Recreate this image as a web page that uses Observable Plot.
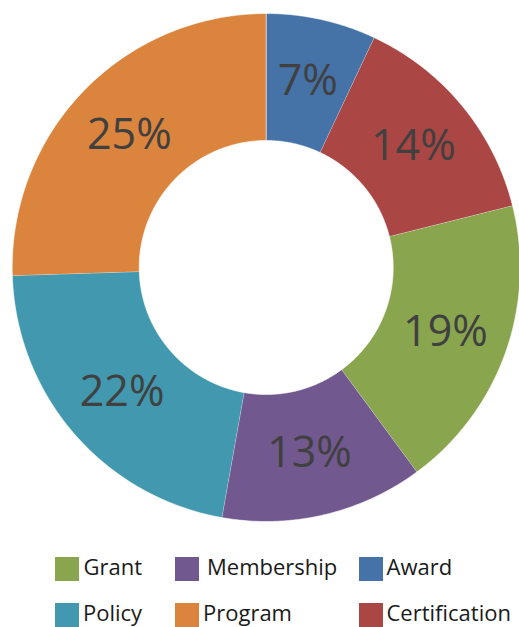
<!DOCTYPE html>
<html>
<head>
<meta charset="utf-8">
<script src="https://cdn.jsdelivr.net/npm/d3@7"></script>
<script src="https://cdn.jsdelivr.net/npm/@observablehq/plot@0.6"></script>
<style>
  html, body { margin: 0; padding: 0; background: #fff; }
  #wrap { width: 519px; height: 627px; position: relative; overflow: hidden; font-family: "Open Sans", sans-serif; }
  #legend { position: absolute; left: 0; top: 540px; width: 519px; height: 87px; }
  .sw { position: absolute; width: 24px; height: 24px; }
  .lt { position: absolute; font-size: 22px; line-height: 24px; height: 24px; color: #1a1a1a; white-space: nowrap; }
</style>
</head>
<body>
<div id="wrap"><div id="chart"></div><div id="legend"></div></div>
<script>
const categories = ["Award", "Certification", "Grant", "Membership", "Policy", "Program"];
const values = [7.0, 14.1, 18.8, 12.9, 21.7, 25.5];
const labelTexts = ["7%", "14%", "19%", "13%", "22%", "25%"];
const colors = ["#4572A7", "#AA4643", "#89A54E", "#71588F", "#4198AF", "#DB843D"];
const legendOrder = ["Grant", "Membership", "Award", "Policy", "Program", "Certification"];

const W = 519, H = 540, CX = 265.7, CY = 267, R = 254, RI = 127;

const pie = d3.pie().sort(null).value(d => d.value).startAngle(0).endAngle(2 * Math.PI);
const data = categories.map((c, i) => ({category: c, value: values[i], label: labelTexts[i]}));
const arcs = pie(data);

const pts = [];
arcs.forEach(a => {
  const n = 80;
  for (let k = 0; k <= n; k++) {
    const t = a.startAngle + (a.endAngle - a.startAngle) * k / n;
    pts.push({category: a.data.category, x: R * Math.sin(t), y: R * Math.cos(t)});
  }
  for (let k = n; k >= 0; k--) {
    const t = a.startAngle + (a.endAngle - a.startAngle) * k / n;
    pts.push({category: a.data.category, x: RI * Math.sin(t), y: RI * Math.cos(t)});
  }
});
const labels = arcs.map(a => {
  const m = (a.startAngle + a.endAngle) / 2, r = (R + RI) / 2;
  return {category: a.data.category, label: a.data.label, x: r * Math.sin(m), y: r * Math.cos(m)};
});

const chart = Plot.plot({
  width: W, height: H,
  margin: 0,
  x: {domain: [-CX, W - CX], range: [0, W], axis: null},
  y: {domain: [-(H - CY), CY], range: [H, 0], axis: null},
  color: {domain: categories, range: colors},
  style: {fontFamily: "'Open Sans', sans-serif", background: "white"},
  marks: [
    Plot.line(pts, {x: "x", y: "y", z: "category", fill: "category", stroke: "white", strokeWidth: 0.6, curve: "linear"}),
    Plot.text(labels, {x: "x", y: "y", text: "label", fontSize: 43, fill: "#404040"})
  ]
});
document.getElementById("chart").appendChild(chart);

const swPos = {
  Grant: [55, 17], Membership: [175, 17], Award: [359, 17],
  Policy: [55, 63], Program: [175, 63], Certification: [359, 63]
};
const txtPos = {
  Grant: [83.5, 14], Membership: [207, 14], Award: [386.5, 14],
  Policy: [83, 59.5], Program: [203, 59.5], Certification: [386.5, 59.5]
};
const lg = document.getElementById("legend");
legendOrder.forEach(c => {
  const i = categories.indexOf(c);
  const sw = document.createElement("div");
  sw.className = "sw";
  sw.style.left = swPos[c][0] + "px";
  sw.style.top = swPos[c][1] + "px";
  sw.style.background = colors[i];
  lg.appendChild(sw);
  const t = document.createElement("div");
  t.className = "lt";
  t.style.left = txtPos[c][0] + "px";
  t.style.top = txtPos[c][1] + "px";
  t.textContent = c;
  lg.appendChild(t);
});
</script>
</body>
</html>
